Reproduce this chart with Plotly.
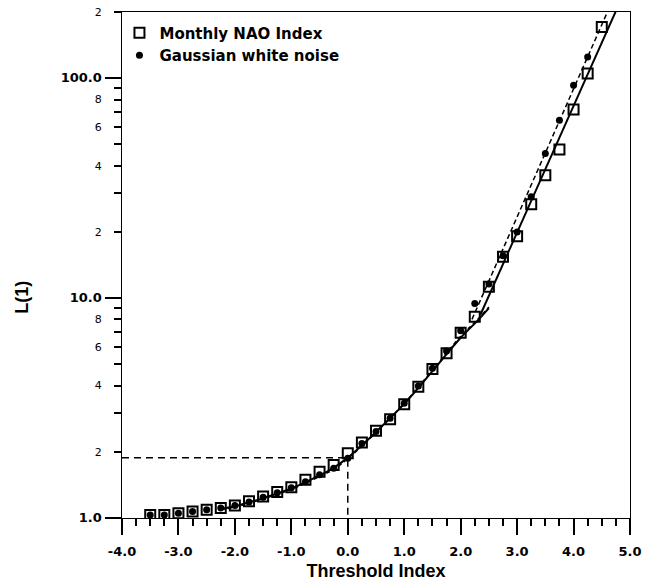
import plotly.graph_objects as go

# ---- data ----
threshold = [-3.5, -3.25, -3.0, -2.75, -2.5, -2.25, -2.0, -1.75, -1.5, -1.25, -1.0,
             -0.75, -0.5, -0.25, 0.0, 0.25, 0.5, 0.75, 1.0, 1.25, 1.5, 1.75, 2.0,
             2.25, 2.5, 2.75, 3.0, 3.25, 3.5, 3.75, 4.0, 4.25, 4.5]
nao_L = [1.03, 1.03, 1.05, 1.07, 1.09, 1.11, 1.14, 1.19, 1.25, 1.31, 1.38,
         1.49, 1.62, 1.74, 1.97, 2.20, 2.49, 2.81, 3.29, 3.95, 4.76, 5.61, 6.95,
         8.23, 11.25, 15.4, 19.1, 26.7, 36.2, 47.4, 72.1, 105.0, 171.0]

gauss_threshold = [-3.5, -3.25, -3.0, -2.75, -2.5, -2.25, -2.0, -1.75, -1.5, -1.25, -1.0,
                   -0.75, -0.5, -0.25, 0.0, 0.25, 0.5, 0.75, 1.0, 1.25, 1.5, 1.75, 2.0,
                   2.25, 2.5, 2.75, 3.0, 3.25, 3.5, 3.75, 4.0, 4.25]
gauss_L = [1.03, 1.03, 1.05, 1.07, 1.09, 1.11, 1.14, 1.18, 1.24, 1.30, 1.37,
           1.46, 1.57, 1.68, 1.87, 2.18, 2.47, 2.84, 3.32, 3.98, 4.8, 5.75, 7.1,
           9.46, 11.6, 15.6, 20.0, 28.9, 45.5, 64.4, 93.0, 125.0]

# fitted curves
low_fit_x = [-2.25, -2.0, -1.5, -1.0, -0.5, -0.25, 0.0, 0.25, 0.5, 1.0, 1.5, 2.0, 2.3, 2.5]
low_fit_nao = [1.10, 1.13, 1.23, 1.36, 1.56, 1.69, 1.88, 2.14, 2.46, 3.3, 4.65, 6.6, 7.9, 9.0]
low_fit_gauss = [1.09, 1.12, 1.22, 1.35, 1.54, 1.66, 1.86, 2.12, 2.45, 3.32, 4.7, 6.7, 8.0, 9.1]

high_fit_nao_x = [2.35, 4.8]
high_fit_nao_y = [8.4, 216.0]
high_fit_gauss_x = [2.2, 4.7]
high_fit_gauss_y = [8.0, 229.0]

# reference point (dashed guide lines)
ref_x = 0.0
ref_L = 1.88
x_min, x_max = -4.0, 5.0
y_min = 1.0

# tick labels
x_tick_vals = [-4, -3, -2, -1, 0, 1, 2, 3, 4, 5]
x_tick_text = ["-4.0", "-3.0", "-2.0", "-1.0", "0.0", "1.0", "2.0", "3.0", "4.0", "5.0"]
y_major_vals = [1, 10, 100]
y_tick_vals = [1, 2, 3, 4, 5, 6, 7, 8, 9,
               10, 20, 30, 40, 50, 60, 70, 80, 90,
               100, 200]
y_tick_labels = ["1.0", "2", "", "4", "", "6", "", "8", "",
                 "10.0", "2", "", "4", "", "6", "", "8", "",
                 "100.0", "2"]
y_title = "L(1)"
x_title = "Threshold Index"

BLACK = "black"
TICKFONT = dict(family="DejaVu Sans", size=13, color=BLACK, weight="bold")
TITLEFONT = dict(family="Liberation Sans, Arial", size=18, color=BLACK, weight="bold")


def ylabel(t):
    # decade labels are bold and larger than the in-between labels
    if "." in t:
        return "<b><span style='font-size:13px'>" + t + "</span></b>"
    return t


fig = go.Figure()

# dashed guide lines
fig.add_trace(go.Scatter(x=[x_min, ref_x, ref_x], y=[ref_L, ref_L, y_min], mode="lines",
                         line=dict(color=BLACK, width=1.5, dash="7px,5px"),
                         showlegend=False, hoverinfo="skip"))

# fit lines
fig.add_trace(go.Scatter(x=low_fit_x, y=low_fit_nao, mode="lines", line_shape="spline",
                         line=dict(color=BLACK, width=2), showlegend=False, hoverinfo="skip"))
fig.add_trace(go.Scatter(x=low_fit_x, y=low_fit_gauss, mode="lines", line_shape="spline",
                         line=dict(color=BLACK, width=1.5, dash="4px,3px"), showlegend=False,
                         hoverinfo="skip"))
fig.add_trace(go.Scatter(x=high_fit_nao_x, y=high_fit_nao_y, mode="lines",
                         line=dict(color=BLACK, width=2), showlegend=False, hoverinfo="skip"))
fig.add_trace(go.Scatter(x=high_fit_gauss_x, y=high_fit_gauss_y, mode="lines",
                         line=dict(color=BLACK, width=1.5, dash="5px,3px"), showlegend=False,
                         hoverinfo="skip"))

# data
fig.add_trace(go.Scatter(x=threshold, y=nao_L, mode="markers", name="Monthly NAO Index",
                         marker=dict(symbol="square-open", size=10, color=BLACK,
                                     line=dict(width=2, color=BLACK))))
fig.add_trace(go.Scatter(x=gauss_threshold, y=gauss_L, mode="markers", name="Gaussian white noise",
                         marker=dict(symbol="circle", size=7, color=BLACK)))

# invisible trace to anchor the axis carrying the long decade ticks
fig.add_trace(go.Scatter(x=[0], y=[1], yaxis="y2", mode="markers", marker=dict(opacity=0),
                         showlegend=False, hoverinfo="skip"))

yrange = [-0.0005, 2.3015]

fig.update_layout(
    width=651, height=583,
    margin=dict(l=122, r=21, t=12, b=65, pad=0),
    plot_bgcolor="white", paper_bgcolor="white",
    showlegend=True,
    legend=dict(x=-0.005, y=0.991, xanchor="left", yanchor="top",
                font=dict(family="DejaVu Sans", size=15, color=BLACK, weight="bold"),
                bgcolor="rgba(0,0,0,0)", tracegroupgap=0, itemwidth=30),
    xaxis=dict(range=[x_min, x_max], tickmode="array", tickvals=x_tick_vals, ticktext=x_tick_text,
               ticks="outside", ticklen=16, tickwidth=1.5, tickcolor=BLACK,
               showline=True, linecolor=BLACK, linewidth=1, mirror=True,
               showgrid=False, zeroline=False, tickfont=TICKFONT, ticklabelstandoff=5,
               minor=dict(dtick=0.25, tick0=-4, ticks="outside", ticklen=7, tickwidth=1.5,
                          tickcolor=BLACK, showgrid=False),
               title=dict(text=x_title, font=TITLEFONT, standoff=6),
               automargin=False),
    yaxis=dict(type="log", range=yrange, tickmode="array", tickvals=y_tick_vals,
               ticktext=[ylabel(t) for t in y_tick_labels],
               ticks="outside", ticklen=7, tickwidth=1.5, tickcolor=BLACK,
               showline=True, linecolor=BLACK, linewidth=1, mirror=True,
               showgrid=False, zeroline=False,
               tickfont=dict(family="DejaVu Sans", size=11, color=BLACK),
               ticklabelstandoff=10,
               automargin=False),
    yaxis2=dict(type="log", range=yrange, overlaying="y", side="left", anchor="x",
                tickmode="array", tickvals=y_major_vals, showticklabels=False,
                ticks="outside", ticklen=16, tickwidth=1.5, tickcolor=BLACK,
                showline=False, showgrid=False, zeroline=False, automargin=False),
    annotations=[dict(text=y_title, textangle=-90, xref="paper", yref="paper",
                      x=-0.197, y=0.437, xanchor="center", yanchor="middle",
                      showarrow=False, font=TITLEFONT)],
)

fig.write_html("out.html", config={"displayModeBar": False},
               post_script="document.body.style.margin='0px';")
